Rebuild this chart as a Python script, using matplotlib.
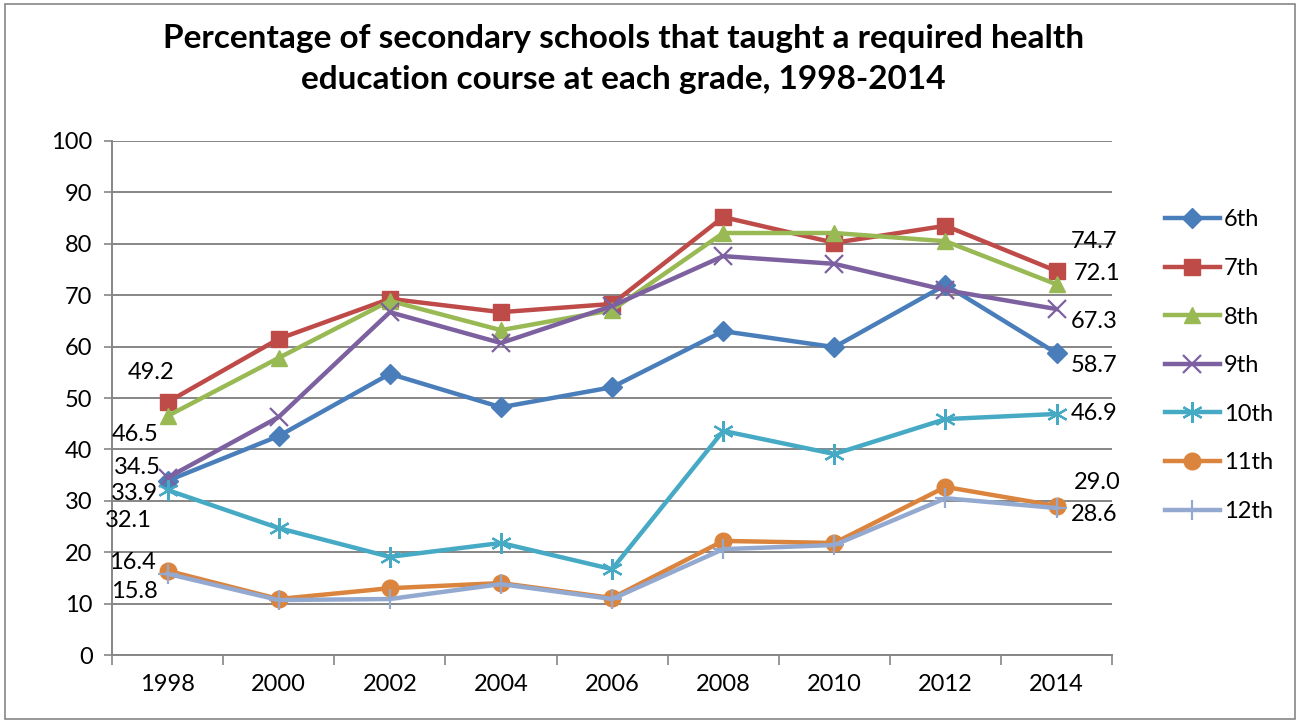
import matplotlib.pyplot as plt
from matplotlib.patches import Rectangle

years = ["1998", "2000", "2002", "2004", "2006", "2008", "2010", "2012", "2014"]
grades = ["6th", "7th", "8th", "9th", "10th", "11th", "12th"]

g6 = [33.9, 42.6, 54.7, 48.2, 52.1, 63.0, 59.9, 72.0, 58.7]
g7 = [49.2, 61.5, 69.3, 66.7, 68.3, 85.2, 80.2, 83.5, 74.7]
g8 = [46.5, 57.8, 68.9, 63.2, 67.1, 82.1, 82.1, 80.5, 72.1]
g9 = [34.5, 46.3, 66.7, 60.7, 67.9, 77.6, 76.1, 71.0, 67.3]
g10 = [32.1, 24.7, 19.1, 21.8, 16.7, 43.6, 39.1, 45.9, 46.9]
g11 = [16.4, 10.9, 13.0, 14.0, 11.1, 22.2, 21.8, 32.7, 29.0]
g12 = [15.8, 10.7, 10.9, 13.8, 10.9, 20.6, 21.4, 30.5, 28.6]

series = [g6, g7, g8, g9, g10, g11, g12]
colors = ["#4A7EBB", "#BE4B48", "#98B954", "#7D60A0", "#46AAC5", "#DB843D", "#93A9D0"]
markers = ["D", "s", "^", "x", (6, 2, 0), "o", "+"]
msizes = [10, 12, 12, 13, 15, 12, 15]

# label offsets (points) for first / last values
first_off = [(-24, -9), (-12, 21), (-23, -13), (-22, 7), (-28, -22), (-25, 6), (-24, -13)]
last_off = [(27, -9), (27, 21), (29, 8), (27, -9), (27, 0), (29, 17), (27, -5)]

plt.rcParams['font.family'] = ['Lato', 'DejaVu Sans']
fs = 17

fig = plt.figure(figsize=(12.99, 7.23), dpi=100)
ax = fig.add_axes([0.0862, 0.094, 0.770, 0.711])

x = list(range(len(years)))
for i, vals in enumerate(series):
    ax.plot(x, vals, color=colors[i], lw=3.2, marker=markers[i], ms=msizes[i],
            mew=1.6 if markers[i] in ("x", "+") or markers[i] == (6, 2, 0) else 1,
            label=grades[i], zorder=3 + i)
    ax.annotate(f"{vals[0]:.1f}", (x[0], vals[0]), xytext=first_off[i],
                textcoords="offset points", ha="center", va="center", fontsize=fs)
    ax.annotate(f"{vals[-1]:.1f}", (x[-1], vals[-1]), xytext=last_off[i],
                textcoords="offset points", ha="center", va="center", fontsize=fs)

ax.set_xlim(-0.5, len(years) - 0.5)
ax.set_ylim(0, 100)
ax.set_yticks(range(0, 101, 10))
ax.set_xticks(x)
ax.set_xticklabels(years)
ax.set_xticks([i - 0.5 for i in range(len(years) + 1)], minor=True)
ax.tick_params(axis="x", which="major", length=0, labelsize=fs, pad=14)
ax.tick_params(axis="x", which="minor", length=7, color="#868686", width=1.2)
ax.tick_params(axis="y", length=6, color="#868686", width=1.2, labelsize=fs, pad=8)
ax.grid(axis="y", color="#868686", lw=1.4, zorder=0)
for s in ("top", "right"):
    ax.spines[s].set_visible(False)
for s in ("left", "bottom"):
    ax.spines[s].set_color("#868686")
    ax.spines[s].set_linewidth(1.4)

fig.suptitle("Percentage of secondary schools that taught a required health\n"
             "education course at each grade, 1998-2014",
             x=0.48, y=0.967, fontsize=24, fontweight="bold", linespacing=1.52)

ax.legend(loc="center left", bbox_to_anchor=(1.053, 0.563), frameon=False,
          fontsize=fs, handlelength=2.3, labelspacing=1.17, handletextpad=0.2,
          borderpad=0, borderaxespad=0)

fig.patches.append(Rectangle((0.004, 0.006), 0.993, 0.988, transform=fig.transFigure,
                             fill=False, edgecolor="#868686", lw=1.2))

fig.savefig("out.png", dpi=100)
